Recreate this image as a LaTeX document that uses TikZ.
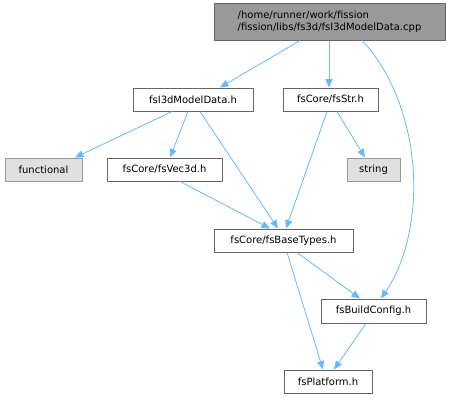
\documentclass[tikz,border=0pt]{standalone}
\usepackage{fontspec}
\setmainfont{DejaVu Sans}
\usetikzlibrary{arrows.meta}
\definecolor{edgec}{HTML}{63B8FF}
\definecolor{bord}{HTML}{666666}
\definecolor{topfill}{HTML}{999999}
\definecolor{extfill}{HTML}{E0E0E0}
\definecolor{extbord}{HTML}{999999}
\tikzset{
  filebox/.style={draw=bord, line width=1pt, fill=white, inner sep=0pt, font=\fontsize{10}{12}\selectfont, text=black},
  topbox/.style={filebox, fill=topfill, align=left},
  extbox/.style={filebox, fill=extfill, draw=extbord},
  dep/.style={draw=edgec, line width=0.8pt, -{Triangle[length=8.5pt,width=7pt]}}
}
\begin{document}
\begin{tikzpicture}[x=1pt,y=-1pt]
\useasboundingbox (0,0) rectangle (449,399);
\node[topbox, minimum width=231pt, minimum height=37pt] (top) at (329.5,21.5) {/home/runner/work/fission\\/fission/libs/fs3d/fsI3dModelData.cpp};
\node[filebox, minimum width=120pt, minimum height=23pt] (mdl) at (193,99.5) {fsI3dModelData.h};
\node[filebox, minimum width=95pt, minimum height=23pt] (str) at (330.5,99.5) {fsCore/fsStr.h};
\node[extbox, minimum width=77pt, minimum height=23pt] (fun) at (43.5,169.5) {functional};
\node[filebox, minimum width=115pt, minimum height=23pt] (vec) at (164.5,169.5) {fsCore/fsVec3d.h};
\node[extbox, minimum width=53pt, minimum height=23pt] (strg) at (373.5,169.5) {string};
\node[filebox, minimum width=139pt, minimum height=23pt] (base) at (283.5,240.5) {fsCore/fsBaseTypes.h};
\node[filebox, minimum width=105pt, minimum height=24pt] (bc) at (373.5,311) {fsBuildConfig.h};
\node[filebox, minimum width=88pt, minimum height=23pt] (plat) at (328,381.5) {fsPlatform.h};

\draw[dep] (top.south -| 300,0) -- (mdl.north -| 220,0);
\draw[dep] (top.south -| 329,0) -- (str.north -| 329,0);
\draw[dep] (top.south -| 362,0) .. controls (400,80) and (420,150) .. (412,215) .. controls (407,255) and (395,278) .. (bc.north -| 381,0);
\draw[dep] (mdl.south -| 172,0) -- (fun.north -| 75,0);
\draw[dep] (mdl.south -| 188,0) -- (vec.north -| 170,0);
\draw[dep] (mdl.south -| 200,0) -- (base.north -| 278,0);
\draw[dep] (vec.south -| 180,0) -- (base.north -| 270,0);
\draw[dep] (str.south -| 327,0) -- (base.north -| 286,0);
\draw[dep] (str.south -| 337,0) -- (strg.north -| 365,0);
\draw[dep] (base.south -| 297,0) -- (bc.north -| 360,0);
\draw[dep] (base.south -| 287,0) -- (plat.north -| 323,0);
\draw[dep] (bc.south -| 366,0) -- (plat.north -| 334,0);
\end{tikzpicture}
\end{document}
